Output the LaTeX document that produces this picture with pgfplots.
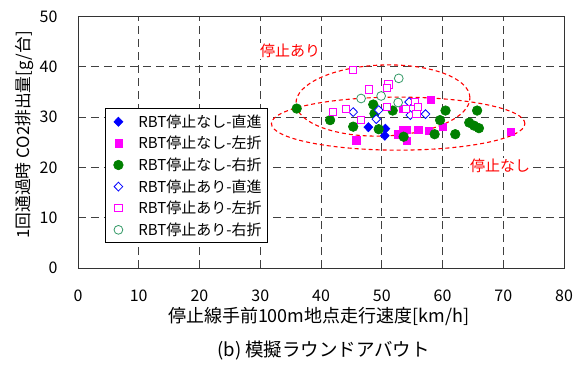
\documentclass[border=0pt]{standalone}
\usepackage{fontspec}
\setmainfont{Noto Sans CJK JP}
\usepackage{pgfplots}
\pgfplotsset{compat=1.18}
\definecolor{mblue}{RGB}{0,0,255}
\definecolor{mmag}{RGB}{255,0,255}
\definecolor{mgreen}{RGB}{0,128,0}
\definecolor{mteal}{RGB}{51,153,102}
\begin{document}
\begin{tikzpicture}
\begin{axis}[
  at={(0pt,0pt)}, anchor=south west,
  scale only axis, width=486pt, height=251.5pt,
  xmin=0, xmax=80, ymin=0, ymax=50,
  xtick={0,10,...,80}, ytick={0,10,...,50},
  grid=major,
  major grid style={draw=black!75, line width=0.9pt, dash pattern=on 8pt off 5pt},
  axis line style={draw=black!80, line width=0.9pt},
  major tick length=0pt,
  /pgf/number format/assume math mode=true,
  tick label style={font=\fontsize{16}{18}\selectfont},
  xticklabel style={anchor=center, yshift=-28pt},
  yticklabel style={anchor=east, xshift=-17pt},
  legend image code/.code={%
    \path[draw=none,fill=none] (0pt,-1pt) rectangle (27pt,1pt);
    \draw[#1,/tikz/only marks] plot coordinates {(9pt,0pt)};},
  legend style={at={(rel axis cs:0.0556,0.635)}, anchor=north west, draw=black, line width=0.8pt, fill=white,
    font=\fontsize{15}{18}\selectfont, cells={anchor=west}, row sep=3.5pt, inner xsep=4pt, inner ysep=4pt},
]
\addplot[only marks, mark=diamond*, mark size=4.6pt, color=mblue, mark options={fill=mblue, line width=0.6pt, xscale=1.3}] coordinates {
(47.8,28.0) (50.6,27.7) (50.5,26.3)};
\addlegendentry{RBT停止なし-直進}
\addplot[only marks, mark=square*, mark size=3.6pt, color=mmag, mark options={fill=mmag, line width=0.6pt}] coordinates {
(45.8,25.4) (52.6,26.6) (53.4,27.4) (54.1,27.4) (54.1,25.3) (56.0,27.4) (57.7,27.2) (60.1,28.1) (58.1,33.5) (53.4,31.6) (71.2,27.1)};
\addlegendentry{RBT停止なし-左折}
\addplot[only marks, mark=*, mark size=4.8pt, color=mgreen, mark options={fill=mgreen, line width=0.6pt}] coordinates {
(36.0,31.7) (41.5,29.4) (45.3,28.1) (48.6,32.5) (48.8,30.7) (49.5,27.6) (51.8,31.3) (53.6,26.1) (58.7,26.6) (59.6,29.4) (60.5,31.3) (62.1,26.6) (64.4,28.9) (65.2,28.3) (66.0,27.8) (65.7,31.3)};
\addlegendentry{RBT停止なし-右折}
\addplot[only marks, mark=diamond*, mark size=4.4pt, color=mblue, mark options={fill=white, line width=0.8pt, xscale=1.3}] coordinates {
(45.3,31.0) (49.5,31.4) (49.1,29.6) (54.5,33.0) (54.7,30.4) (57.2,30.6)};
\addlegendentry{RBT停止あり-直進}
\addplot[only marks, mark=square*, mark size=3.6pt, color=mmag, mark options={fill=white, line width=0.8pt}] coordinates {
(45.2,39.4) (51.1,36.5) (50.8,35.8) (47.9,35.5) (44.1,31.7) (42.0,31.1) (46.6,29.4) (50.9,32.1) (54.0,31.7) (55.5,33.1) (55.9,32.1) (55.7,30.7)};
\addlegendentry{RBT停止あり-左折}
\addplot[only marks, mark=*, mark size=4.4pt, color=mteal, mark options={fill=white, line width=0.8pt}] coordinates {
(46.6,33.7) (49.9,34.2) (52.7,32.9) (52.8,37.7)};
\addlegendentry{RBT停止あり-右折}
\draw[red, line width=1.1pt, dash pattern=on 4pt off 3pt] (axis cs:50.2,33.3) ellipse [x radius=87pt, y radius=35.5pt, rotate=2];
\draw[red, line width=1.1pt, dash pattern=on 4pt off 3pt] (axis cs:52.7,28.7) ellipse [x radius=126.7pt, y radius=26.5pt];
\node[red, fill=white, inner sep=1pt, font=\fontsize{15}{17}\selectfont] at (axis cs:34.9,43.2) {停止あり};
\node[red, fill=white, inner sep=1pt, font=\fontsize{15}{17}\selectfont] at (axis cs:69.5,20.4) {停止なし};
\end{axis}
\node[rotate=90, font=\fontsize{16.8}{18}\selectfont] at (-53.5pt,133pt) {1回通過時 CO2排出量[g/台]};
\node[font=\fontsize{18}{20}\selectfont] at (240.7pt,-49pt) {停止線手前100m地点走行速度[km/h]};
\node[font=\fontsize{18.5}{20}\selectfont] at (245.5pt,-83pt) {(b) 模擬ラウンドアバウト};
\pgfresetboundingbox
\useasboundingbox (-78pt,-99pt) rectangle (506pt,268pt);
\end{tikzpicture}
\end{document}
